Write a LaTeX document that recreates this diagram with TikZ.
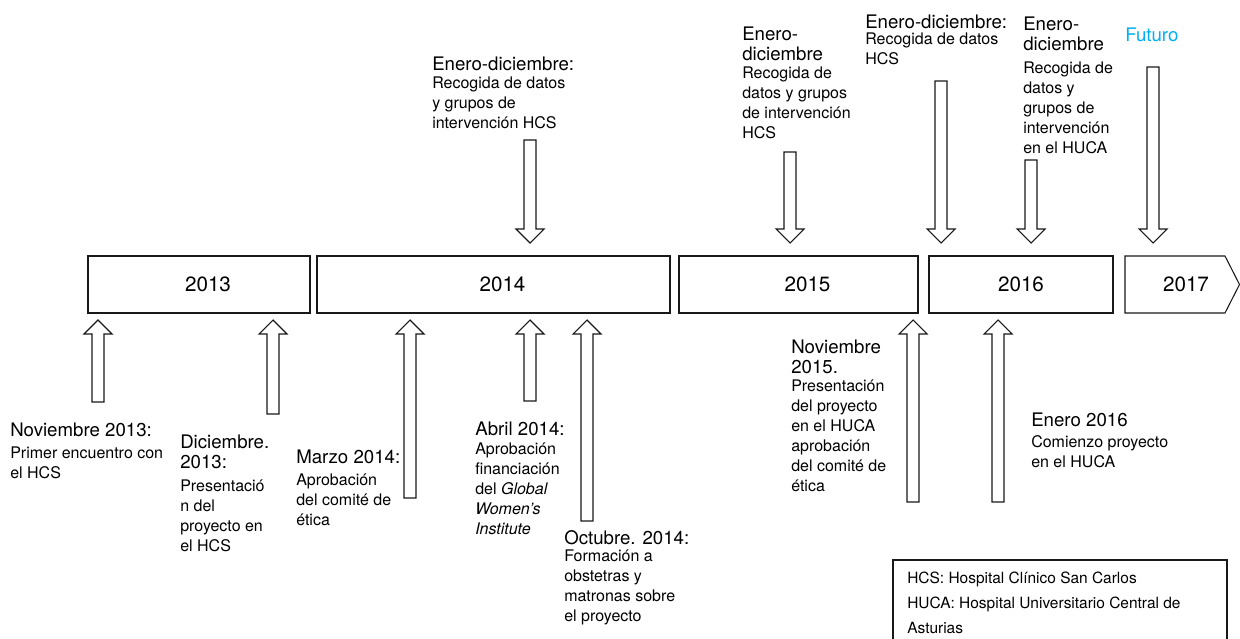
\documentclass[tikz,border=0pt]{standalone}
\usepackage{fontspec}
\setmainfont{TeX Gyre Heros}
\usepackage{xcolor}
\usepackage{tikz}
\usetikzlibrary{calc}
\definecolor{futuro}{RGB}{0,176,240}
\newcommand{\px}{0.75pt}
\newcommand{\ttlfont}{\fontsize{14}{15}\selectfont}
\newcommand{\txtfont}{\fontsize{12}{15}\selectfont}
\newcommand{\blkup}[3]{%
  \draw[blockarrow] (#1-6,#3) -- (#1-6,#2+14) -- (#1-14,#2+14) -- (#1,#2)
    -- (#1+14,#2+14) -- (#1+6,#2+14) -- (#1+6,#3) -- cycle;}
\newcommand{\blkdown}[3]{%
  \draw[blockarrow] (#1-6,#3) -- (#1-6,#2-14) -- (#1-14,#2-14) -- (#1,#2)
    -- (#1+14,#2-14) -- (#1+6,#2-14) -- (#1+6,#3) -- cycle;}

\begin{document}
\begin{tikzpicture}[x=0.75pt, y=-0.75pt,
  yearbox/.style={draw=black!90, line width=0.8pt, minimum height=57*\px, inner sep=0pt},
  yearlbl/.style={inner sep=0pt, font=\fontsize{15.5}{18}\selectfont},
  yearline/.style={draw=black!90, line width=0.8pt},
  blockarrow/.style={draw=black!90, line width=0.8pt, fill=white},
  ttl/.style={anchor=north west, inner sep=0pt, align=left, font=\ttlfont},
  txt/.style={anchor=north west, inner sep=0pt, align=left, font=\txtfont}]
\clip (0,0) rectangle (1240,639);

\node[yearbox, minimum width=222*\px] (y2013) at (199,284.5) {};
\node[yearbox, minimum width=353*\px] (y2014) at (493.5,284.5) {};
\node[yearbox, minimum width=239*\px] (y2015) at (798.5,284.5) {};
\node[yearbox, minimum width=184*\px] (y2016) at (1021,284.5) {};
\draw[yearline] (1125,256) -- (1225,256) -- (1239.5,284.5) -- (1225,313) -- (1125,313) -- cycle;
\node[yearlbl] (l2013) at ($(y2013)+(9,0)$) {2013};
\node[yearlbl] (l2014) at ($(y2014)+(9,0)$) {2014};
\node[yearlbl] (l2015) at ($(y2015)+(9,0)$) {2015};
\node[yearlbl] (l2016) at (y2016) {2016};
\node[yearlbl] (l2017) at (1186,284.5) {2017};

\node[ttl] (ed14) at (432,57) {Enero-diciembre:};
\node[txt] (ed14b) at (432,77) {Recogida de datos\\y grupos de\\intervención HCS};
\node[ttl] (ed15) at (742,27) {Enero-\\diciembre};
\node[txt] (ed15b) at (742,67) {Recogida de\\datos y grupos\\de intervención\\HCS};
\node[ttl] (ed16) at (865,15) {Enero-diciembre:};
\node[txt] (ed16b) at (865,33) {Recogida de datos\\HCS};
\node[ttl] (ed16h) at (1023,17) {Enero-\\diciembre};
\node[txt] (ed16hb) at (1023,62) {Recogida de\\datos y\\grupos de\\intervención\\en el HUCA};
\node[ttl, text=futuro] (fut) at (1125,28) {Futuro};

\blkdown{530}{243}{140}
\blkdown{790}{243}{152}
\blkdown{941}{243}{81}
\blkdown{1031}{243}{160}
\blkdown{1153}{243}{67}

\blkup{98}{320}{402}
\blkup{273}{320}{414}
\blkup{410}{320}{498}
\blkup{530}{320}{401}
\blkup{587}{320}{521}
\blkup{913}{320}{502}
\blkup{998}{320}{502}

\node[ttl] (n13) at (10,423) {Noviembre 2013:};
\node[txt] (n13b) at (10,447) {Primer encuentro con\\el HCS};
\node[ttl] (d13) at (180,435) {Diciembre.\\2013:};
\node[txt] (d13b) at (180,480) {Presentació\\n del\\proyecto en\\el HCS};
\node[ttl] (m14) at (296,450) {Marzo 2014:};
\node[txt] (m14b) at (296,474) {Aprobación\\del comité de\\ética};
\node[ttl] (a14) at (475,422) {Abril 2014:};
\node[txt] (a14b) at (475,443) {Aprobación\\financiación\\del \textit{Global}\\\textit{Women's}\\\textit{Institute}};
\node[ttl] (o14) at (564,530) {Octubre. 2014:};
\node[txt] (o14b) at (564,550) {Formación a\\obstetras y\\matronas sobre\\el proyecto};
\node[ttl] (n15) at (791,340) {Noviembre\\2015.};
\node[txt] (n15b) at (791,380) {Presentación\\del proyecto\\en el HUCA\\aprobación\\del comité de\\ética};
\node[ttl] (e16) at (1031,413) {Enero 2016};
\node[txt] (e16b) at (1031,435) {Comienzo proyecto\\en el HUCA};

\draw[yearline] (893,560) rectangle (1227,650);
\node[txt, font=\fontsize{11.6}{18.75}\selectfont] (leg) at (907,572)
  {HCS: Hospital Clínico San Carlos\\HUCA: Hospital Universitario Central de\\Asturias};
\end{tikzpicture}
\end{document}
